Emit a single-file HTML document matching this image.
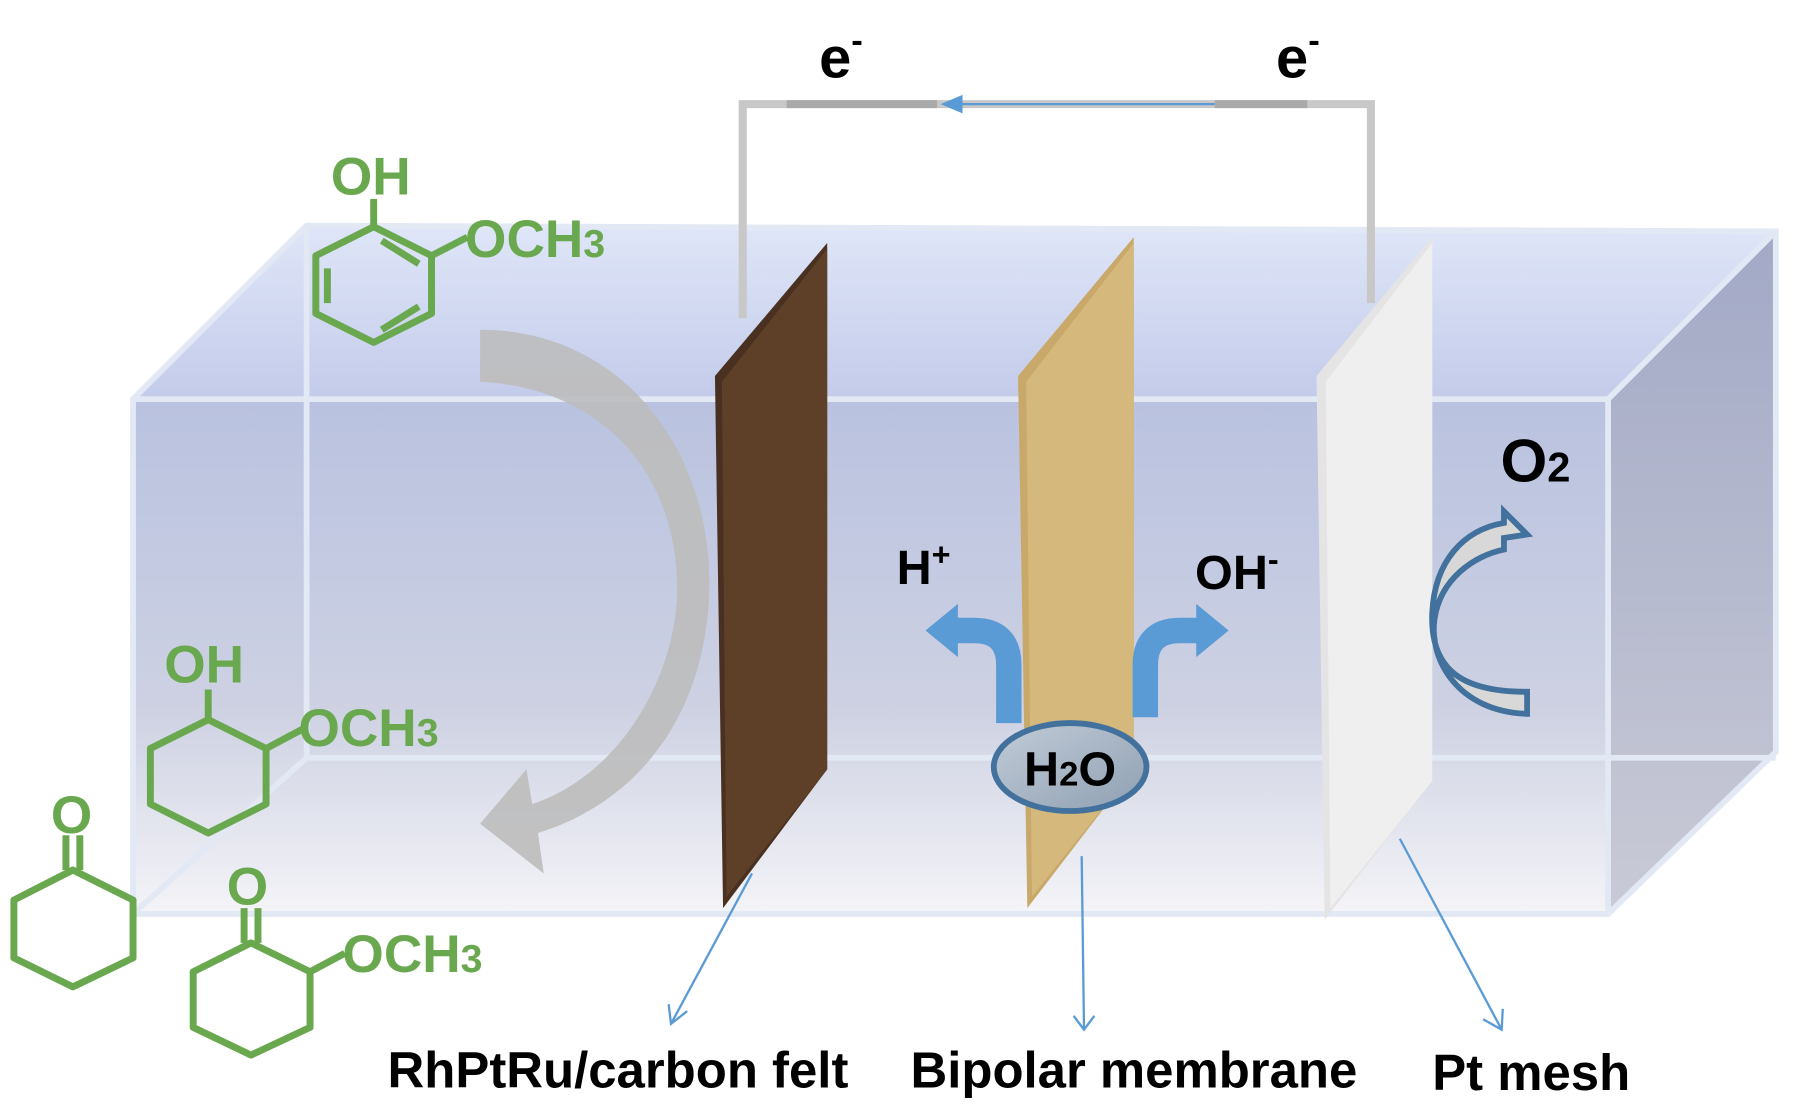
<!DOCTYPE html>
<html><head><meta charset="utf-8"><style>
html,body{margin:0;padding:0;background:#fff;}
svg{display:block;}
text{font-family:"Liberation Sans",sans-serif;font-weight:bold;}
</style></head><body>
<svg width="1814" height="1106" viewBox="0 0 1568 956" preserveAspectRatio="none" xmlns="http://www.w3.org/2000/svg">
<defs>
<linearGradient id="fr" x1="0" y1="0" x2="0" y2="1">
<stop offset="0" stop-color="#b9c2e0"/><stop offset="0.6" stop-color="#cdd1e2"/><stop offset="1" stop-color="#f4f4f8"/></linearGradient>
<linearGradient id="tp" x1="0" y1="0" x2="0" y2="1">
<stop offset="0" stop-color="#dfe6f8"/><stop offset="1" stop-color="#c3cbea"/></linearGradient>
<linearGradient id="rt" x1="0" y1="0" x2="0" y2="1">
<stop offset="0" stop-color="#a2a9c6"/><stop offset="1" stop-color="#c9cad6"/></linearGradient>
<linearGradient id="el" x1="0" y1="0" x2="1" y2="1">
<stop offset="0" stop-color="#c2ccd8"/><stop offset="1" stop-color="#8e9fb2"/></linearGradient>
<linearGradient id="wire" x1="0" y1="0" x2="1" y2="0">
<stop offset="0" stop-color="#ddd"/><stop offset="0.5" stop-color="#999"/><stop offset="1" stop-color="#ddd"/></linearGradient>
</defs>
<!-- box -->
<polygon points="115,345 265,195 1535,200 1390,345" fill="url(#tp)"/>
<polygon points="1390,345 1535,200 1535,650 1390,790" fill="url(#rt)"/>
<rect x="115" y="345" width="1275" height="445" fill="url(#fr)"/>
<g stroke="#e2e8f4" stroke-width="5" fill="none">
<line x1="265" y1="195" x2="265" y2="655"/>
<line x1="265" y1="655" x2="1535" y2="655"/>
<line x1="265" y1="655" x2="115" y2="790"/>
<polyline points="115,790 115,345 265,195 1535,200 1535,650 1390,790 115,790"/>
<polyline points="115,345 1390,345 1535,200"/>
<line x1="1390" y1="345" x2="1390" y2="790"/>
</g>
<!-- wire -->
<polyline points="642,275 642,90 1185,90 1185,262" fill="none" stroke="#c8c8c8" stroke-width="7"/>
<line x1="680" y1="90" x2="810" y2="90" stroke="#aaa" stroke-width="7"/>
<line x1="1050" y1="90" x2="1130" y2="90" stroke="#aaa" stroke-width="7"/>
<line x1="1050" y1="90" x2="830" y2="90" stroke="#5b9bd5" stroke-width="2"/>
<polygon points="813,90 832,82 832,98" fill="#5b9bd5"/>
<text x="708" y="67" font-size="50">e<tspan font-size="30" dy="-22">-</tspan></text>
<text x="1103" y="67" font-size="50">e<tspan font-size="30" dy="-22">-</tspan></text>
<!-- gray curved arrow -->
<path d="M415,285 C560,285 640,430 605,570 C585,650 530,700 465,720 L470,755 L415,712 L455,665 L460,695 C535,670 580,590 585,520 C590,410 520,335 415,330 Z" fill="#bdbdbd" opacity="0.9"/>
<!-- electrodes -->
<polygon points="618,325 715,210 715,665 625,785" fill="#4a3020"/>
<polygon points="624,330 715,215 715,665 628,775" fill="#5e3f28"/>
<polygon points="880,325 980,205 980,665 888,785" fill="#c9a96a"/>
<polygon points="887,330 980,210 980,665 892,775" fill="#d4b87c"/>
<polygon points="1138,325 1238,205 1238,675 1145,795" fill="#e4e4e4"/>
<polygon points="1146,330 1238,210 1238,675 1150,785" fill="#efefef"/>
<!-- blue bent arrows -->
<path d="M872,625 L872,575 Q872,545 842,545 L825,545" fill="none" stroke="#5b9bd5" stroke-width="22"/>
<polygon points="800,545 828,522 828,568" fill="#5b9bd5"/>
<path d="M990,620 L990,575 Q990,545 1020,545 L1037,545" fill="none" stroke="#5b9bd5" stroke-width="22"/>
<polygon points="1062,545 1034,522 1034,568" fill="#5b9bd5"/>
<ellipse cx="925" cy="663" rx="66" ry="38" fill="url(#el)" stroke="#41719c" stroke-width="5"/>
<text x="925" y="679" font-size="42" text-anchor="middle">H<tspan font-size="30">2</tspan>O</text>
<text x="775" y="505" font-size="42">H<tspan font-size="28" dy="-16">+</tspan></text>
<text x="1033" y="509" font-size="42">OH<tspan font-size="28" dy="-16">-</tspan></text>
<text x="1297" y="416" font-size="52">O<tspan font-size="36">2</tspan></text>
<!-- O2 arrow -->
<path d="M1320,617 C1260,615 1235,570 1240,535 C1245,500 1275,480 1300,475 L1300,465 L1320,462 L1300,442 L1300,452 C1265,458 1240,485 1238,530 C1236,580 1265,598 1320,598 Z" fill="#d8d8d8" stroke="#41719c" stroke-width="5" stroke-linejoin="miter"/>
<!-- pointers -->
<g stroke="#5b9bd5" stroke-width="2" fill="none">
<line x1="650" y1="755" x2="580" y2="885"/><polyline points="578,868 580,885 594,874"/>
<line x1="935" y1="740" x2="937" y2="890"/><polyline points="928,878 937,890 946,878"/>
<line x1="1210" y1="725" x2="1298" y2="890"/><polyline points="1282,881 1298,890 1299,872"/>
</g>
<text x="335" y="940" font-size="44">RhPtRu/carbon felt</text>
<text x="787" y="940" font-size="44">Bipolar membrane</text>
<text x="1238" y="942" font-size="44">Pt mesh</text>
<!-- molecules -->
<g stroke="#6aa84f" stroke-width="6" fill="none" stroke-linejoin="round">
<polygon points="323,196 373,221 373,271 323,296 273,271 273,221"/>
<line x1="283" y1="232" x2="283" y2="262"/><line x1="330" y1="285" x2="362" y2="265"/>
<line x1="330" y1="208" x2="362" y2="228"/>
<line x1="323" y1="196" x2="323" y2="172"/><line x1="373" y1="221" x2="404" y2="205"/>
<polygon points="180,622 230,647 230,695 180,720 130,695 130,647"/>
<line x1="180" y1="622" x2="180" y2="596"/><line x1="230" y1="647" x2="262" y2="630"/>
<polygon points="63,752 115,778 115,828 63,853 12,828 12,778"/>
<line x1="57" y1="752" x2="57" y2="722"/><line x1="69" y1="752" x2="69" y2="722"/>
<polygon points="217,815 268,840 268,888 217,912 167,888 167,840"/>
<line x1="211" y1="815" x2="211" y2="785"/><line x1="223" y1="815" x2="223" y2="785"/>
<line x1="268" y1="840" x2="298" y2="824"/>
</g>
<g fill="#6aa84f" font-size="46">
<text x="286" y="168">OH</text>
<text x="402" y="222">OCH<tspan font-size="34">3</tspan></text>
<text x="142" y="590">OH</text>
<text x="258" y="645">OCH<tspan font-size="34">3</tspan></text>
<text x="44" y="720">O</text>
<text x="196" y="782">O</text>
<text x="296" y="840">OCH<tspan font-size="34">3</tspan></text>
</g>
</svg>
</body></html>
